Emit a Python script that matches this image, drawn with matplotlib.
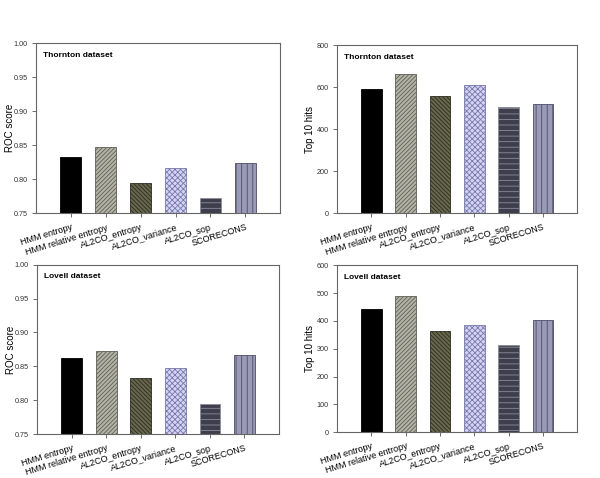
import matplotlib
matplotlib.use("Agg")
import matplotlib.pyplot as plt
import numpy as np

methods = ["HMM entropy", "HMM relative entropy", "AL2CO_entropy",
           "AL2CO_variance", "AL2CO_sop", "SCORECONS"]

thornton_roc = [0.832, 0.847, 0.794, 0.817, 0.773, 0.823]
thornton_top10 = [592, 662, 558, 611, 506, 522]
lovell_roc = [0.862, 0.872, 0.833, 0.847, 0.794, 0.867]
lovell_top10 = [443, 490, 362, 387, 313, 402]

face_colors = ["#000000", "#b4b4a6", "#68684e", "#d4d4f6", "#3e3e4c", "#9a9ab6"]
hatch_colors = ["#000000", "#5e5e56", "#2c2c20", "#7878a8", "#8c8c9c", "#4c4c66"]
hatches = ["", "////////", "\\\\\\\\\\\\\\\\", "xxxxxx", "---", "|||"]

plt.rcParams["hatch.linewidth"] = 0.6
plt.rcParams["font.family"] = "Liberation Sans"


def draw_panel(ax, values, ylim, yticks, ylabel, title, fmt, label_x):
    x = np.arange(len(methods))
    bars = ax.bar(x, values, width=0.6, color=face_colors, bottom=0)
    for bar, hc, h in zip(bars, hatch_colors, hatches):
        bar.set_hatch(h)
        bar.set_edgecolor(hc)
        bar.set_linewidth(0.6)
    ax.set_xlim(-1, 6)
    ax.set_ylim(*ylim)
    ax.set_yticks(yticks)
    ax.set_yticklabels([format(t, fmt) for t in yticks], fontsize=5.2, color="#333333")
    ax.set_xticks(x)
    ax.set_xticklabels(methods, rotation=17, ha="right", rotation_mode="anchor", fontsize=6.5)
    ax.tick_params(axis="x", direction="out", length=3, width=0.6, color="#555555", pad=4)
    ax.tick_params(axis="y", direction="out", length=3, width=0.6, color="#555555", pad=3)
    ax.set_ylabel(ylabel, fontsize=7)
    ax.yaxis.set_label_coords(label_x, 0.5)
    for s in ax.spines.values():
        s.set_color("#666666")
        s.set_linewidth(0.8)
    ax.text(0.03, 0.92, title, transform=ax.transAxes, fontsize=6, fontweight="bold")


fig = plt.figure(figsize=(6.0, 4.78), dpi=100)
ax1 = fig.add_axes([0.060, 0.554, 0.407, 0.356])
ax2 = fig.add_axes([0.562, 0.554, 0.400, 0.351])
ax3 = fig.add_axes([0.062, 0.092, 0.403, 0.354])
ax4 = fig.add_axes([0.562, 0.096, 0.400, 0.349])

draw_panel(ax1, thornton_roc, (0.75, 1.0), [0.75, 0.80, 0.85, 0.90, 0.95, 1.00],
           "ROC score", "Thornton dataset", ".2f", -0.088)
draw_panel(ax2, thornton_top10, (0, 800), [0, 200, 400, 600, 800],
           "Top 10 hits", "Thornton dataset", "d", -0.094)
draw_panel(ax3, lovell_roc, (0.75, 1.0), [0.75, 0.80, 0.85, 0.90, 0.95, 1.00],
           "ROC score", "Lovell dataset", ".2f", -0.088)
draw_panel(ax4, lovell_top10, (0, 600), [0, 100, 200, 300, 400, 500, 600],
           "Top 10 hits", "Lovell dataset", "d", -0.094)

fig.savefig("out.png", dpi=100)
